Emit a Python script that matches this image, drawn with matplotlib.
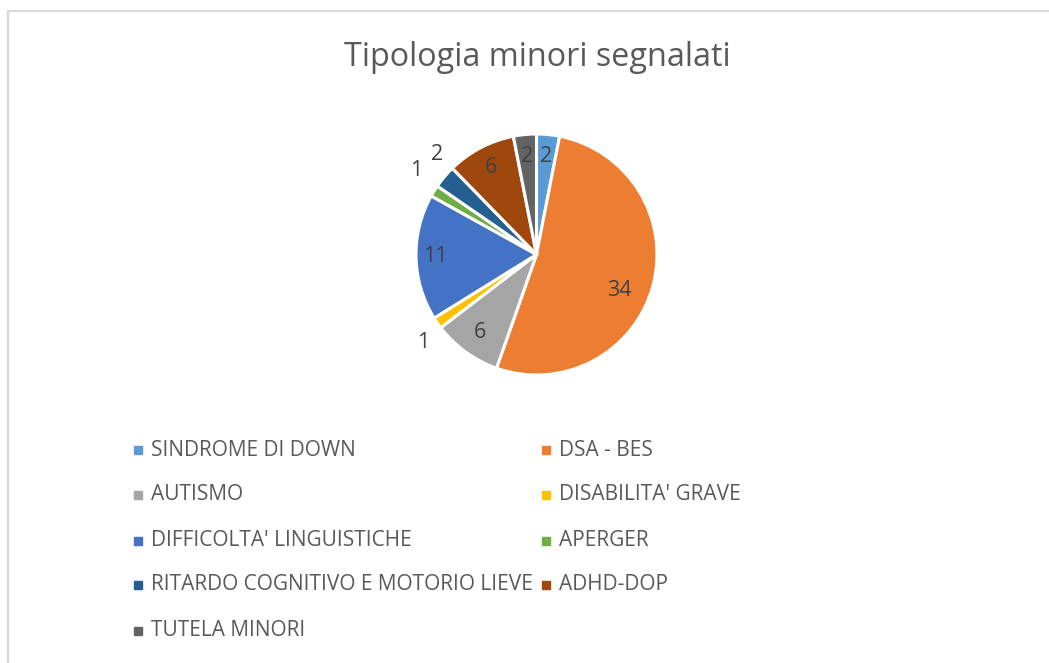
import numpy as np
import matplotlib
matplotlib.use("Agg")
import matplotlib.pyplot as plt
from matplotlib.patches import Rectangle

# data
categories = ["SINDROME DI DOWN", "DSA - BES", "AUTISMO", "DISABILITA' GRAVE",
              "DIFFICOLTA' LINGUISTICHE", "APERGER",
              "RITARDO COGNITIVO E MOTORIO LIEVE", "ADHD-DOP", "TUTELA MINORI"]
values = [2, 34, 6, 1, 11, 1, 2, 6, 2]
colors = ["#5B9BD5", "#ED7D31", "#A5A5A5", "#FFC000", "#4472C4",
          "#70AD47", "#255E91", "#9E480E", "#636363"]
# label placement (fraction of radius, angle shift in degrees); small slices sit outside
label_dist = [0.82, 0.75, 0.80, 1.19, 0.84, 1.22, 1.17, 0.82, 0.82]
label_shift = [0, -8, 0, 3, 0, -3, -5, 0, 0]

W, H = 1049, 663
plt.rcParams["font.family"] = ["Open Sans", "DejaVu Sans"]
TXT = "#595959"

fig = plt.figure(figsize=(W / 100, H / 100), dpi=100)

# chart frame (light grey, clipped at right/bottom)
fig.patches.append(Rectangle((8 / W, -0.05), 1.1, (H - 11) / H + 0.05,
                             transform=fig.transFigure, fill=False,
                             edgecolor="#d9d9d9", linewidth=1.6))

fig.text(537 / W, 1 - 57 / H, "Tipologia minori segnalati", ha="center",
         va="center", fontsize=23.3, color=TXT)

cx, cy, r = 536.5, 254.5, 120.5
ax = fig.add_axes([(cx - r) / W, 1 - (cy + r) / H, 2 * r / W, 2 * r / H])
wedges, _ = ax.pie(values, colors=colors, startangle=90, counterclock=False,
                   radius=1.0,
                   wedgeprops=dict(edgecolor="white", linewidth=2.2))
ax.set_xlim(-1, 1)
ax.set_ylim(-1, 1)
ax.axis("off")

for w, v, d, s in zip(wedges, values, label_dist, label_shift):
    ang = np.deg2rad((w.theta1 + w.theta2) / 2 + s)
    ax.text(d * np.cos(ang), d * np.sin(ang), str(v), ha="center",
            va="center", fontsize=15.5, color="#404040")

# legend: two columns
col_x = [138, 546]
row_y = [450, 495, 541, 585, 631]
for i, (lab, c) in enumerate(zip(categories, colors)):
    x = col_x[i % 2]
    y = row_y[i // 2]
    fig.patches.append(Rectangle(((x - 4) / W, 1 - (y + 4) / H), 8 / W, 8 / H,
                                 transform=fig.transFigure, color=c))
    fig.text((x + 13) / W, 1 - y / H, lab, ha="left", va="center",
             fontsize=15, color=TXT)

fig.savefig("out.png", dpi=100)
